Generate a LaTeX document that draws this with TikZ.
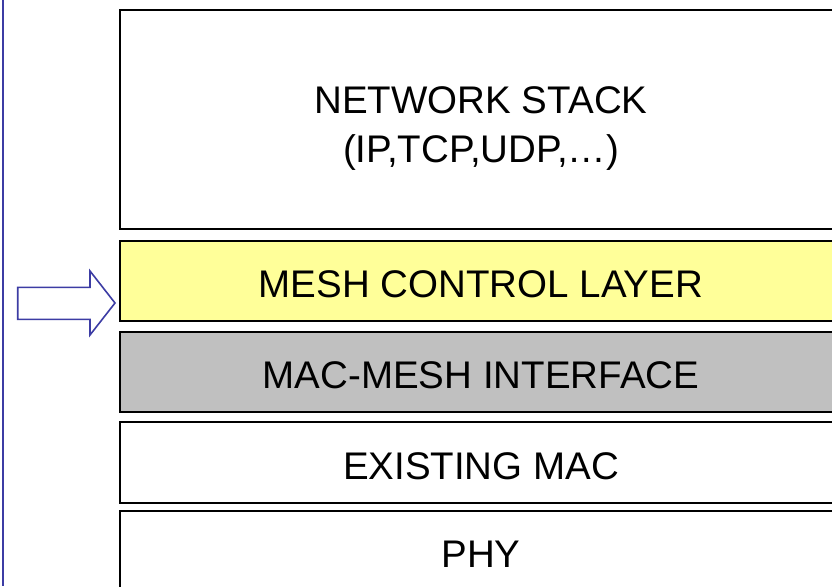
\documentclass[tikz,border=0pt]{standalone}
\usepackage{fontspec}
\setmainfont{Liberation Sans}
\definecolor{meshyellow}{HTML}{FFFF99}
\definecolor{macgray}{HTML}{C0C0C0}
\definecolor{sideblue}{HTML}{3C3CA4}
\begin{document}
\begin{tikzpicture}[x=1pt,y=-1pt,
  layerfont/.style={font=\fontsize{38.5}{49}\selectfont},
  layerbox/.style={draw=black, line width=1.6pt, minimum width=722pt, inner sep=0pt,
    layerfont, align=center, text height=33pt, text depth=0pt}]
\useasboundingbox (0,0) rectangle (832,586);
\clip (0,0) rectangle (832,586);
\fill[white] (0,0) rectangle (832,586);
% left vertical rule
\coordinate (ltop) at (3,0);
\coordinate (lbot) at (3,586);
\draw[sideblue, line width=1.8pt] (ltop) -- (lbot);
% layers
\node[draw=black, line width=1.6pt, minimum width=722pt, minimum height=219pt, inner sep=0pt,
  label={[layerfont, align=center, yshift=-9pt]center:NETWORK STACK\\(IP,TCP,UDP,\dots)}]
  (net) at (481,119.5) {};
\node[layerbox, minimum height=80pt, fill=meshyellow] (mcl) at (481,281) {MESH CONTROL LAYER};
\node[layerbox, minimum height=80pt, fill=macgray] (mmi) at (481,372) {MAC-MESH INTERFACE};
\node[layerbox, minimum height=81pt] (emac) at (481,462.5) {EXISTING MAC};
\node[layerbox, minimum height=80pt] (phy) at (481,551) {PHY};
% block arrow pointing at the mesh control layer
\draw[sideblue, fill=white, line width=1.6pt, line join=miter]
  (17.7,287.3) -- (90,287.3) -- (90,271) -- (115,303) -- (90,335) -- (90,319.3) -- (17.7,319.3) -- cycle;
\end{tikzpicture}
\end{document}
